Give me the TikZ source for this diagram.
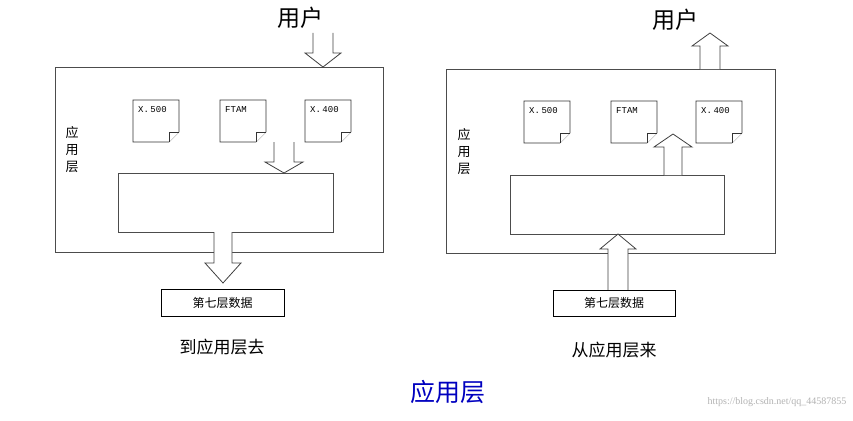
\documentclass[tikz,border=0pt]{standalone}
\usepackage{fontspec}
\setmainfont{Liberation Serif}
\newfontfamily\cjk{Noto Sans CJK SC}
\newfontfamily\monofnt{Liberation Mono}
\usetikzlibrary{positioning}

\tikzset{
  frame/.style={draw=black!70, line width=0.8pt},
  docnote/.style={draw=black!80, line width=0.6pt, fill=white},
  fatarrow/.style={draw=black!75, line width=0.8pt, fill=white},
  tag/.style={font=\monofnt\fontsize{9}{10}\selectfont, anchor=north west, inner sep=0pt},
  sidetext/.style={font=\cjk\fontsize{13}{17}\selectfont, align=center}
}

% doc with a folded corner: top left x, y, text
\newcommand{\paper}[3]{%
  \draw[docnote] (#1,#2) -- (#1+46,#2) -- (#1+46,#2+32) -- (#1+36,#2+42) -- (#1,#2+42) -- cycle;
  \draw[docnote] (#1+46,#2+32) -- (#1+36,#2+32) -- (#1+36,#2+42);
  \node[tag] at (#1+5,#2+6) {#3};
}
% hollow arrow down: centre x, top y, tip y, shaft half width, head half width, head length
\newcommand{\arrowdown}[6]{%
  \draw[fatarrow] (#1-#4,#2) -- (#1-#4,#3-#6) -- (#1-#5,#3-#6) -- (#1,#3) -- (#1+#5,#3-#6) -- (#1+#4,#3-#6) -- (#1+#4,#2);
}
\newcommand{\arrowup}[6]{%
  \draw[fatarrow] (#1-#4,#2) -- (#1-#4,#3+#6) -- (#1-#5,#3+#6) -- (#1,#3) -- (#1+#5,#3+#6) -- (#1+#4,#3+#6) -- (#1+#4,#2);
}

\begin{document}
\begin{tikzpicture}[x=1pt, y=-1pt]
        \useasboundingbox (0,0) rectangle (853,420);

        % left: to the application layer
        \node (user1) at (300,18) {\cjk\fontsize{23}{25}\selectfont 用户};
        \draw[frame] (55,67) rectangle (383,252);
        \node[sidetext] (side1) at (72,150) {应\\用\\层};
        \paper{133}{100}{X.\,500}
        \paper{220}{100}{FTAM}
        \paper{305}{100}{X.\,400}
        \draw[frame] (118,173) rectangle (333,232);
        \arrowdown{323}{33}{67}{10}{18}{14}
        \arrowdown{284}{142}{173}{10}{19}{11}
        \arrowdown{223}{232}{283}{9}{18}{20}
        \node[draw, line width=0.8pt, minimum width=123pt, minimum height=27pt, inner sep=0pt] (data1) at (222.5,302.5)
            {\cjk\fontsize{12}{14}\selectfont 第七层数据};
        \node (cap1) at (222,347) {\cjk\fontsize{17}{19}\selectfont 到应用层去};

        % right: from the application layer
        \node (user2) at (675,20) {\cjk\fontsize{23}{25}\selectfont 用户};
        \draw[frame] (446,69) rectangle (775,253);
        \node[sidetext] (side2) at (464,152) {应\\用\\层};
        \paper{524}{101}{X.\,500}
        \paper{611}{101}{FTAM}
        \paper{696}{101}{X.\,400}
        \draw[frame] (510,175) rectangle (724,234);
        \arrowup{710}{69}{33}{10}{18}{13}
        \arrowup{673}{175}{134}{9}{19}{13}
        \arrowup{618}{290}{234}{10}{18}{15}
        \node[draw, line width=0.8pt, minimum width=122pt, minimum height=26pt, inner sep=0pt] (data2) at (614,303)
            {\cjk\fontsize{12}{14}\selectfont 第七层数据};
        \node (cap2) at (614,350) {\cjk\fontsize{17}{19}\selectfont 从应用层来};

        % title
        \node[text=blue!75!black] (title) at (448,392) {\cjk\fontsize{25}{27}\selectfont 应用层};
        \node[text=black!30, anchor=east] (mark) at (850,402) {\fontsize{10}{12}\selectfont https://blog.csdn.net/qq\_44587855};
    \end{tikzpicture}
\end{document}
